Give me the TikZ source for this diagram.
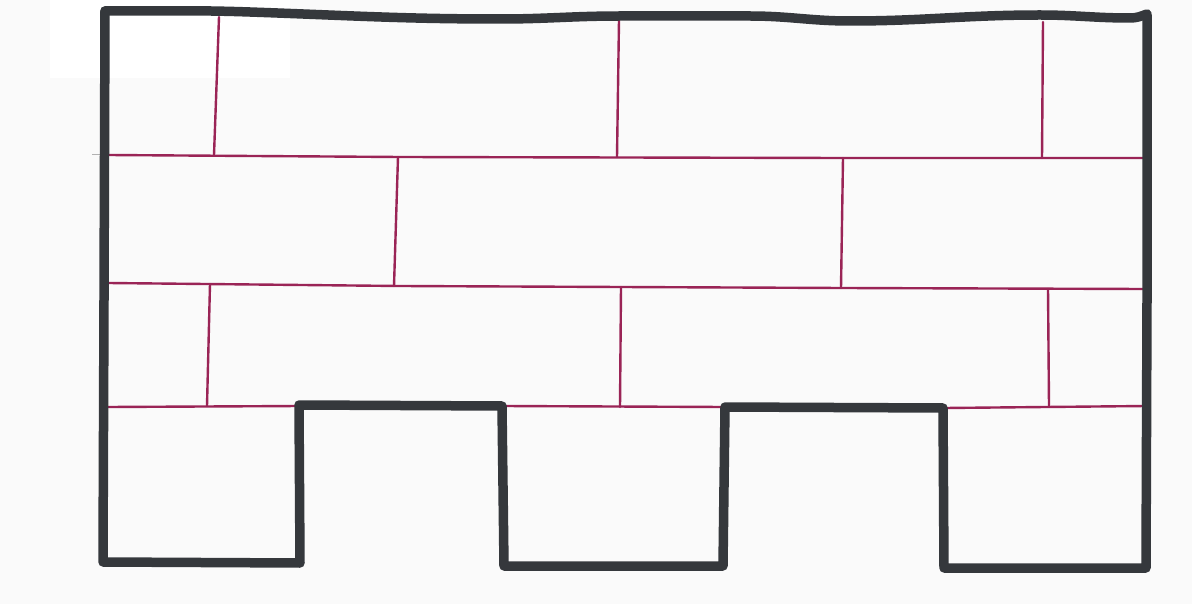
\documentclass[tikz,border=0pt]{standalone}
\definecolor{paper}{HTML}{FAFAFA}
\definecolor{ink}{HTML}{35383C}
\definecolor{mortar}{HTML}{9A2456}
\tikzset{
  outline/.style={draw=ink,line width=9.5pt,line join=round,line cap=round},
  joint/.style={draw=mortar,line width=2.4pt,line cap=round},
}
\begin{document}
\begin{tikzpicture}[x=1pt,y=-1pt]
\useasboundingbox (0,0) rectangle (1192,604);
\fill[paper] (0,0) rectangle (1192,604);
\fill[white] (50,0) rectangle (290,78);
\draw[gray!60,line width=1pt] (92,155) -- (104,155);
% mortar bed joints
\draw[joint] (108,155) -- (400,157) -- (842,158) -- (1144,158);
\draw[joint] (108,283) -- (400,286) -- (842,288) -- (1144,289);
\draw[joint] (108,407) -- (300,406);
\draw[joint] (945,408) -- (1146,406);
\draw[joint] (503,406) -- (724,407);
% head joints row 1
\draw[joint] (219,17) -- (214,155);
\draw[joint] (619,20) -- (617,157);
\draw[joint] (1043,22) -- (1042,158);
% row 2
\draw[joint] (398,157) -- (394,286);
\draw[joint] (843,158) -- (841,288);
% row 3
\draw[joint] (210,284) -- (207,406);
\draw[joint] (621,287) -- (620,407);
\draw[joint] (1048,289) -- (1049,406);
% top edge, slightly wavy
\draw[outline] (105,11) to[out=0,in=178] (250,12) to[out=-2,in=180] (500,19)
  to[out=0,in=180] (620,16) to[out=0,in=180] (750,16) to[out=0,in=180] (850,21)
  to[out=0,in=180] (1040,15) to[out=0,in=180] (1130,18) to[out=0,in=200] (1147,14);
% outline with crenellations
\draw[outline] (1147,15) -- (1147,300) -- (1146,568) -- (944,568) -- (943,408)
  -- (725,407) -- (723,566) -- (504,566) -- (502,406) -- (299,405)
  -- (300,563) -- (103,562) -- (104,300) -- (105,11);
\end{tikzpicture}
\end{document}
